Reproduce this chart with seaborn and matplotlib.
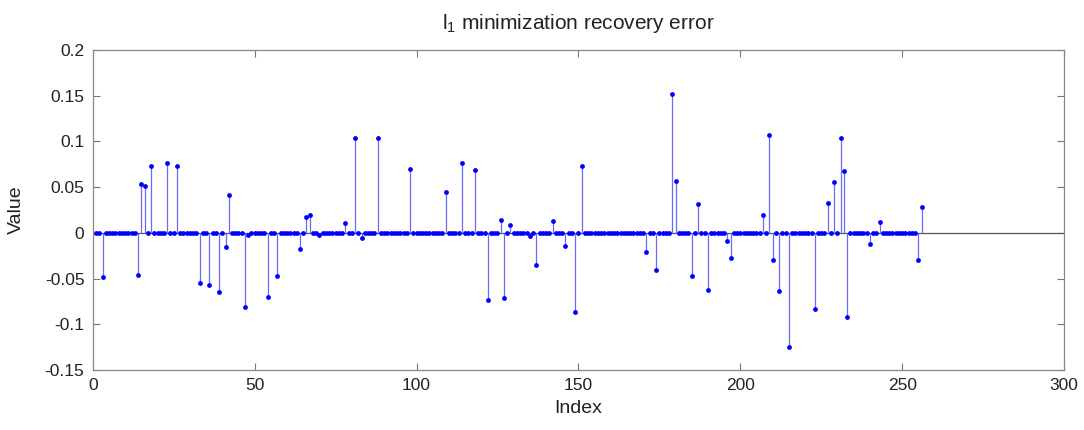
import numpy as np
import pandas as pd
import matplotlib
matplotlib.use("Agg")
import matplotlib.pyplot as plt
import seaborn as sns

# ---- data ----
n_points = 256
nonzero_index = [3, 14, 15, 16, 18, 23, 26, 33, 36, 39, 41, 42, 47, 48, 54, 57,
                 64, 66, 67, 70, 78, 81, 83, 88, 98, 109, 114, 118, 122, 126,
                 127, 129, 135, 137, 142, 146, 149, 151, 171, 174, 179, 180,
                 185, 187, 190, 196, 197, 207, 209, 210, 212, 215, 223, 227,
                 229, 231, 232, 233, 240, 243, 255, 256]
nonzero_value = [-0.048, -0.0456, 0.0533, 0.051, 0.0726, 0.0759, 0.073, -0.0551,
                 -0.0566, -0.0646, -0.0153, 0.0412, -0.0807, -0.0026, -0.0704,
                 -0.0474, -0.0172, 0.0175, 0.020, -0.0018, 0.0113, 0.104, -0.0055,
                 0.1033, 0.070, 0.0445, 0.0759, 0.0693, -0.073, 0.0139, -0.0715,
                 0.0091, -0.0033, -0.0354, 0.0131, -0.0139, -0.0865, 0.0734,
                 -0.0212, -0.0401, 0.1515, 0.0562, -0.0467, 0.0318, -0.062,
                 -0.0088, -0.0277, 0.019, 0.107, -0.0296, -0.0639, -0.1248,
                 -0.0832, 0.0332, 0.0551, 0.104, 0.0682, -0.092, -0.0124, 0.012,
                 -0.0296, 0.0288]
x_ticks = [0, 50, 100, 150, 200, 250, 300]
y_ticks = [-0.15, -0.1, -0.05, 0, 0.05, 0.1, 0.15, 0.2]
y_tick_labels = ["-0.15", "-0.1", "-0.05", "0", "0.05", "0.1", "0.15", "0.2"]
title_text = "l$_1$ minimization recovery error"
x_label = "Index"
y_label = "Value"

values = np.zeros(n_points)
for i, v in zip(nonzero_index, nonzero_value):
    values[i - 1] = v
df = pd.DataFrame({"Index": np.arange(1, n_points + 1), "Value": values})

# ---- plot ----
sns.set_theme(style="white")
plt.rcParams["font.family"] = ["Liberation Sans", "DejaVu Sans"]
plt.rcParams["mathtext.fontset"] = "custom"
plt.rcParams["mathtext.rm"] = "Liberation Sans"
plt.rcParams["mathtext.default"] = "regular"

fig = plt.figure(figsize=(10.84, 4.30), dpi=100)
ax = fig.add_axes([0.0856, 0.1395, 0.896, 0.7442])

ax.axhline(0, color="#555555", linewidth=0.9, zorder=1)
ax.vlines(df["Index"], 0, df["Value"], color="#6a6aff", linewidth=0.9, zorder=2)
sns.scatterplot(data=df, x="Index", y="Value", ax=ax, color="#0000ff",
                s=12, linewidth=0, zorder=3, legend=False)

ax.set_xlim(0, 300)
ax.set_ylim(-0.15, 0.2)
ax.set_xticks(x_ticks)
ax.set_yticks(y_ticks)
ax.set_yticklabels(y_tick_labels)
ax.tick_params(direction="in", length=5, width=0.8, color="#777777",
               labelsize=12.5, labelcolor="#222222", top=True, right=True,
               bottom=True, left=True, pad=6)
for s in ax.spines.values():
    s.set_color("#888888")
    s.set_linewidth(0.9)

ax.set_xlabel(x_label, fontsize=14, color="#222222", labelpad=5)
ax.set_ylabel(y_label, fontsize=14, color="#222222", labelpad=14)
ax.set_title(title_text, fontsize=15, color="#222222", pad=15)

fig.savefig("out.png", dpi=100)
